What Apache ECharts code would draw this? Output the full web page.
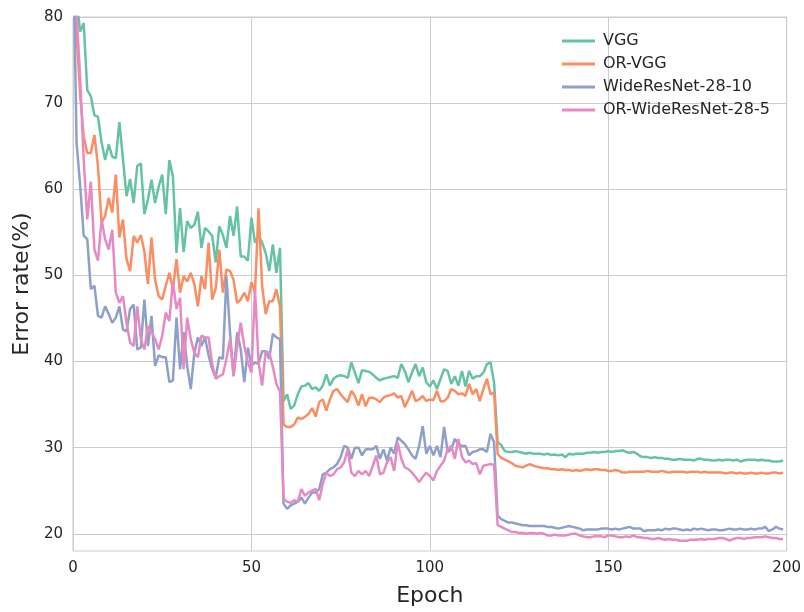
<!DOCTYPE html>
<html>
<head>
<meta charset="utf-8">
<script src="https://cdn.jsdelivr.net/npm/echarts@6/dist/echarts.min.js"></script>
<style>
  html, body { margin: 0; padding: 0; background: #fff; }
  #chart { width: 804px; height: 612px; }
</style>
</head>
<body>
<div id="chart"></div>
<script>
// error rate (%) per epoch, epochs 0..199
var seriesNames = ['VGG', 'OR-VGG', 'WideResNet-28-10', 'OR-WideResNet-28-5'];
var colors = ['#66c2a5', '#fc8d62', '#8da0cb', '#e78ac3'];
var xTicks = [0, 50, 100, 150, 200];
var yTicks = [20, 30, 40, 50, 60, 70, 80];

var vgg = [
  90, 82, 78.3, 79.3, 71.5, 70.8, 68.6, 68.4, 65.5, 63.4,
  65.2, 63.8, 63.6, 67.8, 63.5, 59.2, 61.2, 58.4, 62.7, 63.0,
  57.1, 58.8, 61.1, 58.4, 60.3, 61.7, 57.1, 63.4, 61.5, 52.6,
  57.8, 52.7, 56.3, 55.5, 55.9, 57.4, 53.2, 55.5, 55.1, 54.6,
  51.5, 55.7, 54.7, 53.2, 56.9, 54.6, 58.0, 52.2, 52.2, 51.7,
  56.7, 53.8, 54.6, 53.8, 52.6, 50.5, 53.6, 50.3, 53.2, 35.4,
  36.2, 34.5, 34.9, 36.2, 37.1, 37.2, 37.5, 36.8, 37.0, 36.6,
  37.2, 38.5, 37.2, 38.0, 38.3, 38.4, 38.3, 38.1, 39.9, 38.7,
  37.5, 39.0, 38.9, 38.8, 38.5, 38.1, 37.8, 38.0, 38.1, 38.2,
  38.3, 38.1, 39.7, 38.9, 37.6, 38.7, 39.7, 38.3, 39.3, 37.6,
  37.1, 37.8, 36.8, 38.0, 39.1, 38.9, 37.4, 38.3, 37.2, 38.9,
  37.1, 38.9, 38.0, 38.3, 38.3, 38.7, 39.7, 39.9, 37.6, 30.6,
  30.3, 29.6, 29.5, 29.5, 29.6, 29.5, 29.4, 29.3, 29.4, 29.3,
  29.3, 29.3, 29.2, 29.3, 29.15, 29.2, 29.1, 29.2, 28.9, 29.3,
  29.2, 29.3, 29.3, 29.3, 29.4, 29.4, 29.5, 29.4, 29.5, 29.5,
  29.6, 29.5, 29.6, 29.6, 29.7, 29.5, 29.4, 29.5, 29.3, 29.0,
  28.9, 28.9, 28.8, 28.9, 28.8, 28.8, 28.7, 28.7, 28.6, 28.6,
  28.7, 28.6, 28.6, 28.6, 28.5, 28.7, 28.7, 28.6, 28.6, 28.5,
  28.5, 28.6, 28.5, 28.6, 28.6, 28.5, 28.6, 28.4, 28.5, 28.6,
  28.6, 28.6, 28.5, 28.6, 28.5, 28.5, 28.4, 28.4, 28.4, 28.5
];

var orVgg = [
  88, 78, 71, 66.1, 64.2, 64.2, 66.3, 62.7, 56.1, 56.9,
  59.0, 57.3, 61.7, 54.4, 56.5, 51.9, 50.5, 54.6, 53.8, 54.7,
  52.8, 49.0, 54.4, 49.5, 47.6, 47.2, 48.8, 50.3, 48.4, 51.9,
  48.0, 49.9, 49.3, 50.3, 49.0, 46.4, 49.9, 48.4, 53.8, 47.2,
  48.5, 53.0, 48.0, 50.7, 50.5, 49.5, 46.8, 47.2, 48.0, 47.0,
  49.2, 48.0, 57.8, 48.8, 45.5, 47.0, 47.0, 48.4, 46.4, 32.7,
  32.4, 32.4, 32.7, 33.5, 33.3, 33.6, 33.9, 34.6, 33.6, 35.3,
  35.6, 34.3, 35.6, 36.6, 36.8, 36.2, 35.7, 35.3, 36.6, 36.0,
  34.9, 36.2, 34.8, 35.8, 35.8, 35.6, 35.3, 35.8, 36.0, 36.1,
  36.3, 35.8, 36.0, 34.7, 35.6, 36.6, 35.4, 35.6, 36.0, 35.4,
  35.6, 35.5, 36.6, 35.4, 35.4, 35.8, 36.8, 36.6, 36.2, 36.3,
  36.0, 37.4, 36.2, 36.8, 35.4, 36.8, 38.0, 36.2, 36.4, 29.3,
  28.8, 28.6, 28.4, 28.2, 27.9, 27.8, 27.7, 27.9, 28.1, 27.9,
  27.8, 27.7, 27.6, 27.6, 27.5, 27.5, 27.4, 27.5, 27.4, 27.4,
  27.3, 27.4, 27.3, 27.4, 27.5, 27.4, 27.5, 27.5, 27.4, 27.4,
  27.3, 27.3, 27.4, 27.3, 27.1, 27.1, 27.2, 27.2, 27.2, 27.2,
  27.2, 27.3, 27.2, 27.2, 27.2, 27.3, 27.2, 27.1, 27.2, 27.2,
  27.2, 27.2, 27.1, 27.2, 27.2, 27.2, 27.1, 27.2, 27.1, 27.1,
  27.1, 27.1, 27.1, 27.0, 27.1, 27.1, 27.0, 27.1, 27.0, 27.0,
  27.1, 27.0, 27.0, 27.1, 27.0, 27.0, 27.1, 27.1, 27.0, 27.1
];

var wrn = [
  90, 65.4, 60.5, 54.6, 54.2, 48.4, 48.8, 45.3, 45.1, 46.4,
  45.5, 44.5, 45.1, 46.4, 43.7, 43.5, 46.1, 46.6, 41.4, 41.6,
  47.2, 41.8, 45.3, 39.5, 40.7, 40.5, 40.5, 37.6, 37.8, 45.1,
  39.1, 43.4, 39.5, 36.8, 41.0, 42.8, 41.8, 42.8, 40.7, 39.1,
  38.2, 40.5, 40.3, 49.9, 43.4, 38.3, 43.4, 41.4, 37.6, 41.6,
  39.5, 39.9, 39.7, 41.2, 41.2, 40.3, 43.2, 42.8, 42.6, 23.5,
  22.9, 23.3, 23.5, 23.7, 24.2, 23.5, 24.2, 24.8, 24.8, 25.2,
  26.9, 27.1, 27.5, 27.7, 28.1, 28.9, 30.2, 30.0, 28.7, 30.0,
  30.0, 29.1, 29.8, 29.8, 29.8, 30.2, 28.7, 29.8, 28.5, 30.0,
  29.3, 31.2, 30.8, 30.4, 29.8, 29.1, 28.7, 30.2, 32.5, 29.3,
  30.2, 29.1, 30.2, 28.9, 32.4, 29.5, 29.8, 31.0, 30.4, 30.2,
  30.2, 29.1, 29.5, 29.6, 29.8, 29.8, 29.5, 31.6, 30.6, 22.1,
  21.7, 21.5, 21.3, 21.3, 21.2, 21.1, 21.0, 21.0, 20.9, 20.9,
  20.9, 20.9, 20.9, 20.8, 20.8, 20.7, 20.6, 20.7, 20.8, 20.9,
  20.8, 20.7, 20.6, 20.4, 20.5, 20.5, 20.5, 20.5, 20.6, 20.6,
  20.6, 20.5, 20.6, 20.5, 20.6, 20.7, 20.8, 20.6, 20.6, 20.6,
  20.3, 20.4, 20.4, 20.4, 20.5, 20.4, 20.6, 20.5, 20.6, 20.6,
  20.5, 20.4, 20.5, 20.4, 20.6, 20.5, 20.6, 20.5, 20.4, 20.5,
  20.5, 20.4, 20.4, 20.5, 20.6, 20.5, 20.5, 20.6, 20.5, 20.5,
  20.6, 20.5, 20.6, 20.6, 20.8, 20.3, 20.5, 20.8, 20.6, 20.5
];

var orWrn = [
  92, 80.5, 73, 63.4, 56.5, 60.9, 53.0, 51.7, 56.5, 54.2,
  53.0, 55.3, 48.0, 46.8, 47.6, 44.5, 42.2, 41.8, 46.4, 42.6,
  41.4, 44.1, 43.4, 42.6, 41.4, 43.0, 45.7, 44.7, 49.3, 46.1,
  47.4, 39.1, 45.1, 42.6, 41.0, 40.5, 43.0, 42.8, 42.8, 39.7,
  38.0, 38.3, 38.5, 40.3, 42.6, 38.3, 41.8, 44.5, 41.8, 39.9,
  38.7, 48.4, 39.9, 37.2, 41.2, 41.0, 39.4, 37.4, 36.5, 24.1,
  23.7, 23.6, 23.9, 23.7, 25.2, 24.4, 24.8, 25.0, 25.2, 23.9,
  25.8, 27.1, 26.7, 26.9, 27.5, 27.7, 28.3, 29.8, 27.1, 26.7,
  27.3, 26.9, 27.3, 26.7, 27.9, 29.1, 26.9, 27.1, 28.3, 28.9,
  27.3, 30.6, 28.7, 27.7, 27.5, 27.1, 26.6, 26.0, 26.6, 27.1,
  26.7, 26.2, 27.3, 27.9, 28.5, 29.8, 30.2, 28.7, 31.0, 28.9,
  28.3, 28.5, 28.1, 28.2, 26.9, 27.9, 28.0, 28.1, 28.0, 21.0,
  20.8, 20.6, 20.4, 20.2, 20.2, 20.1, 20.1, 20.0, 20.1, 20.1,
  20.0, 20.1, 20.0, 19.8, 19.8, 19.9, 19.8, 19.8, 19.8, 19.9,
  20.0, 20.0, 19.8, 19.7, 19.6, 19.6, 19.7, 19.7, 19.7, 19.6,
  19.8, 19.8, 19.7, 19.6, 19.6, 19.7, 19.6, 19.8, 19.6, 19.6,
  19.5, 19.5, 19.4, 19.4, 19.5, 19.4, 19.3, 19.4, 19.3, 19.3,
  19.2, 19.2, 19.2, 19.3, 19.3, 19.3, 19.4, 19.3, 19.4, 19.4,
  19.4, 19.5, 19.5, 19.4, 19.2, 19.4, 19.5, 19.5, 19.4, 19.5,
  19.5, 19.6, 19.6, 19.6, 19.7, 19.6, 19.5, 19.5, 19.4, 19.4
];

var allValues = [vgg, orVgg, wrn, orWrn];
var font = 'DejaVu Sans';
var textColor = '#262626';

function toPairs(arr) {
  return arr.map(function (v, i) { return [i, v]; });
}

var chart = echarts.init(document.getElementById('chart'));

chart.setOption({
  animation: false,
  backgroundColor: '#fff',
  grid: {
    left: 73, right: 17, top: 17, bottom: 60,
    show: true, borderColor: '#cccccc', borderWidth: 1, backgroundColor: '#fff'
  },
  legend: {
    orient: 'vertical',
    left: 557, top: 27,
    icon: 'rect',
    itemWidth: 33, itemHeight: 3, itemGap: 5,
    textStyle: { fontFamily: font, fontSize: 16, color: textColor, padding: [0, 0, 0, 3],
      lineHeight: 18 },
    data: seriesNames
  },
  xAxis: {
    type: 'value',
    min: 0, max: 200, interval: 50,
    name: 'Epoch', nameLocation: 'middle', nameGap: 34,
    nameTextStyle: { fontFamily: font, fontSize: 22, color: textColor },
    axisLine: { show: false },
    axisTick: { show: false },
    axisLabel: { fontFamily: font, fontSize: 15, color: textColor, margin: 10,
      customValues: xTicks },
    splitLine: { show: true, lineStyle: { color: '#cccccc', width: 1 } }
  },
  yAxis: {
    type: 'value',
    min: 18, max: 80,
    name: 'Error rate(%)', nameLocation: 'middle', nameGap: 38,
    nameTextStyle: { fontFamily: font, fontSize: 22, color: textColor },
    axisLine: { show: false },
    axisTick: { show: false, customValues: yTicks },
    axisLabel: { fontFamily: font, fontSize: 15, color: textColor, margin: 10,
      customValues: yTicks },
    splitLine: { show: true, lineStyle: { color: '#cccccc', width: 1 } }
  },
  series: seriesNames.map(function (name, k) {
    return {
      name: name,
      type: 'line',
      symbol: 'none',
      data: toPairs(allValues[k]),
      itemStyle: { color: colors[k] },
      lineStyle: { color: colors[k], width: 2.5 },
      z: 2 + k
    };
  })
});
</script>
</body>
</html>
